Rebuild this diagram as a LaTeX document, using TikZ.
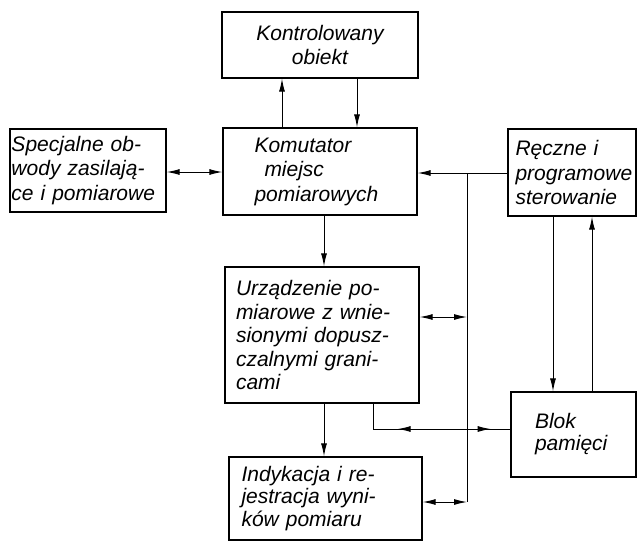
\documentclass[tikz,border=0pt]{standalone}
\usepackage{fontspec}
\setmainfont{Liberation Sans}
\usetikzlibrary{arrows.meta,decorations.markings}
\newcommand\jst[2]{\makebox[#1pt][s]{#2}}
\begin{document}
\begin{tikzpicture}[x=1pt,y=-1pt,
  blk/.style={draw, line width=1.3pt, inner sep=0pt, font=\fontsize{21}{24.5}\selectfont\itshape},
  arr/.style={-{Latex[length=13pt,width=6pt]}},
  arrboth/.style={{Latex[length=13pt,width=6pt]}-{Latex[length=13pt,width=6pt]}},
  con/.style={line width=1pt}]
\useasboundingbox (0,0) rectangle (638,542);

\node[blk, minimum width=196pt, minimum height=66pt, align=center] (obj) at (320,45) {Kontrolowany\\obiekt};
\node[blk, minimum width=194pt, minimum height=87pt, text width=131pt, align=left] (kom) at (320,171.5) {Komutator\\\hspace*{10pt}miejsc\\pomiarowych};
\node[blk, minimum width=156pt, minimum height=83pt, text width=153pt, align=left] (spec) at (88,170.5) {\jst{143}{Specjalne ob-}\\\jst{153}{wody zasilają-}\\\jst{147}{ce i pomiarowe}};
\node[blk, minimum width=128pt, minimum height=87pt, text width=113pt, align=left] (recz) at (572,172.5) {\jst{97}{Ręczne i}\\programowe\\sterowanie};
\node[blk, minimum width=194pt, minimum height=136pt, text width=172pt, align=left, font=\fontsize{21}{23.5}\selectfont\itshape] (urz) at (322,335) {\jst{167}{Urządzenie po-}\\\jst{172}{miarowe z wnie-}\\\jst{167}{sionymi dopusz-}\\\jst{165}{czalnymi grani-}\\cami};
\node[blk, minimum width=193pt, minimum height=83pt, text width=168pt, align=left, font=\fontsize{21}{22.5}\selectfont\itshape] (ind) at (325.5,498.5) {\jst{162}{Indykacja i re-}\\\jst{168}{jestracja wyni-}\\\jst{142}{ków pomiaru}};
\node[blk, minimum width=125pt, minimum height=85pt, text width=77pt, align=left, font=\fontsize{21}{22}\selectfont\itshape] (blok) at (573.5,434.5) {Blok\\pamięci};

\coordinate (xup) at (282,0);
\coordinate (xdn) at (357,0);
\coordinate (ylr) at (0,172);
\coordinate (yrk) at (0,173);
\coordinate (xmid) at (324,0);
\coordinate (bus) at (467,173);
\coordinate (busend) at (467,502);
\coordinate (yurz) at (0,317);
\coordinate (xmem) at (373,0);
\coordinate (ymem) at (0,429);
\coordinate (xrd) at (553,0);
\coordinate (xru) at (592,0);
\coordinate (yind) at (0,502);

\draw[con,arr] (kom.north -| xup) -- (obj.south -| xup);
\draw[con,arr] (obj.south -| xdn) -- (kom.north -| xdn);
\draw[con,arrboth] (spec.east |- ylr) -- (kom.west |- ylr);
\draw[con,arr] (recz.west |- yrk) -- (kom.east |- yrk);
\draw[con] (bus) -- (busend);
\draw[con,arrboth] (urz.east |- yurz) -- (bus |- yurz);
\draw[con,arrboth] (ind.east |- yind) -- (busend);
\draw[con,arr] (kom.south -| xmid) -- (urz.north -| xmid);
\draw[con,arr] (urz.south -| xmid) -- (ind.north -| xmid);
\draw[con,arr] (recz.south -| xrd) -- (blok.north -| xrd);
\draw[con,arr] (blok.north -| xru) -- (recz.south -| xru);
\draw[con, postaction={decorate}, decoration={markings,
   mark=at position 50pt with {\arrowreversed{Latex[length=13pt,width=6pt]}},
   mark=at position 143pt with {\arrow{Latex[length=13pt,width=6pt]}}}]
   (urz.south -| xmem) |- (blok.west |- ymem);
\end{tikzpicture}
\end{document}
